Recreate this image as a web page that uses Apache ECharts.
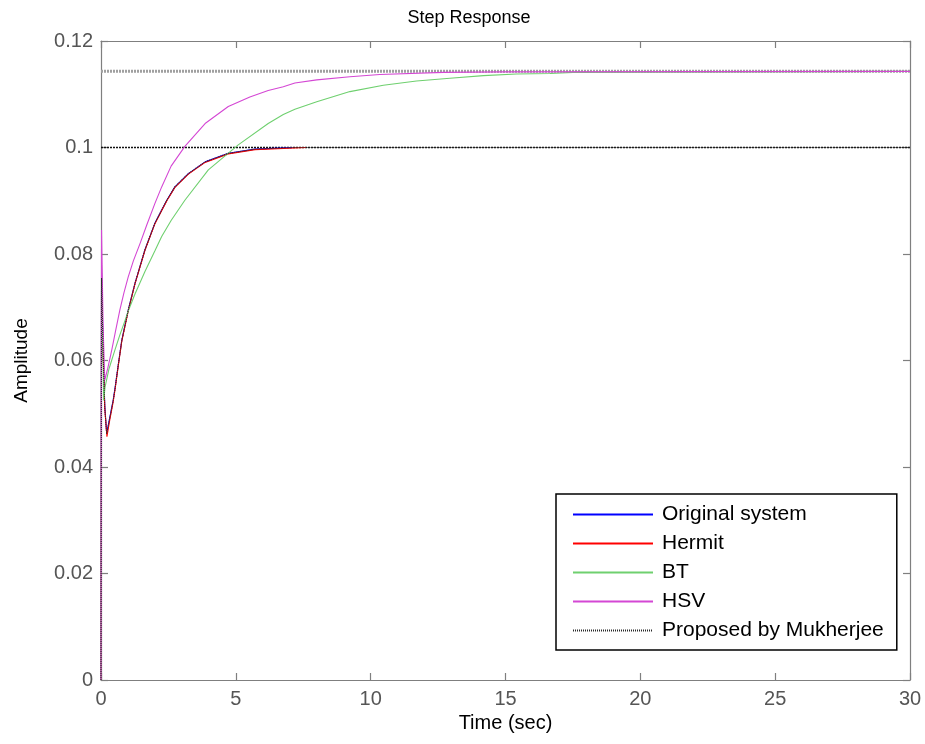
<!DOCTYPE html>
<html>
<head>
<meta charset="utf-8">
<title>Step Response</title>
<script src="https://cdn.jsdelivr.net/npm/echarts@6/dist/echarts.min.js"></script>
<style>
  html, body { margin: 0; padding: 0; background: #fff; }
  #chart { width: 925px; height: 744px; }
</style>
</head>
<body>
<div id="chart"></div>
<script>
// Step responses of the full-order system and its reduced models: [time (s), amplitude]
const originalSystem = [
  [0, 0], [0.02, 0.0765], [0.08, 0.062], [0.14, 0.0515], [0.21, 0.0463], [0.33, 0.0494],
  [0.45, 0.0525], [0.52, 0.0548], [0.64, 0.0592], [0.77, 0.0638], [1.01, 0.0695],
  [1.26, 0.0745], [1.63, 0.0808], [2.0, 0.0858], [2.44, 0.0901], [2.74, 0.0926],
  [3.24, 0.0951], [3.86, 0.0973], [4.72, 0.0989], [5.71, 0.0997], [7.1, 0.1]
];
const hermit = [
  [0, 0], [0.02, 0.075], [0.08, 0.061], [0.14, 0.051], [0.22, 0.0457], [0.33, 0.049],
  [0.45, 0.0522], [0.52, 0.0545], [0.64, 0.059], [0.77, 0.0636], [1.01, 0.0693],
  [1.26, 0.0744], [1.63, 0.0807], [2.0, 0.0857], [2.44, 0.09], [2.74, 0.0925],
  [3.24, 0.095], [3.86, 0.0972], [4.72, 0.0988], [5.71, 0.0996], [7.6, 0.1]
];
const bt = [
  [0, 0], [0.02, 0.078], [0.06, 0.064], [0.1, 0.0525], [0.15, 0.055], [0.3, 0.0585],
  [0.5, 0.0617], [0.7, 0.0648], [0.89, 0.0675], [1.01, 0.0693], [1.26, 0.0725],
  [1.63, 0.0767], [2.0, 0.0806], [2.25, 0.0833], [2.6, 0.0863], [3.11, 0.0901],
  [3.98, 0.0958], [5.09, 0.1005], [6.2, 0.1045], [6.76, 0.1062], [7.19, 0.1072],
  [8.0, 0.1086], [9.23, 0.1105], [10.47, 0.1117], [11.7, 0.1125], [12.94, 0.113],
  [14.18, 0.1135], [15.41, 0.1138], [16.65, 0.1139], [17.5, 0.1141], [23.6, 0.1142], [30, 0.1143]
];
const hsv = [
  [0, 0], [0.02, 0.0845], [0.08, 0.066], [0.14, 0.0563], [0.25, 0.0585], [0.4, 0.062],
  [0.55, 0.0658], [0.7, 0.0695], [0.85, 0.0727], [1.01, 0.0757], [1.2, 0.0787],
  [1.45, 0.082], [1.7, 0.0855], [2.0, 0.0895], [2.25, 0.0926], [2.6, 0.0965],
  [3.11, 0.1002], [3.86, 0.1045], [4.72, 0.1077], [5.52, 0.1095], [6.2, 0.1107],
  [6.76, 0.1114], [7.19, 0.1121], [8.0, 0.1127], [9.23, 0.1133], [10.34, 0.1137],
  [12.7, 0.1141], [15.0, 0.1142], [30, 0.1143]
];
const mukherjee = [
  [0, 0], [0.02, 0.0755], [0.08, 0.061], [0.14, 0.0512], [0.21, 0.0462], [0.33, 0.0493],
  [0.45, 0.0524], [0.52, 0.0547], [0.64, 0.0591], [0.77, 0.0637], [1.01, 0.0694],
  [1.26, 0.0745], [1.63, 0.0808], [2.0, 0.0858], [2.44, 0.0901], [2.74, 0.0926],
  [3.24, 0.0951], [3.86, 0.0973], [4.72, 0.0989], [5.71, 0.0997], [7.1, 0.1], [30, 0.1]
];

// Steady-state levels
const steadyLow = [[0, 0.1], [30, 0.1]];
const steadyHigh = [[0, 0.1143], [30, 0.1143]];

const seriesNames = ['Original system', 'Hermit', 'BT', 'HSV', 'Proposed by Mukherjee'];

// Axis ranges and ticks
const xTicks = [0, 5, 10, 15, 20, 25, 30];
const yTicks = [0, 0.02, 0.04, 0.06, 0.08, 0.1, 0.12];

const FONT = 'Liberation Sans, Arial, Helvetica, sans-serif';
const axisGray = '#7f7f7f';

const chart = echarts.init(document.getElementById('chart'), null, { renderer: 'canvas' });

function line(name, data, color, type, width, z) {
  return {
    name: name,
    type: 'line',
    data: data,
    showSymbol: false,
    symbol: 'none',
    silent: true,
    z: z,
    lineStyle: { color: color, width: width, type: type },
    itemStyle: { color: color }
  };
}

const tickAxisBase = {
  axisLine: { show: true, onZero: false, lineStyle: { color: axisGray, width: 1.2 } },
  axisTick: { show: true, inside: true, length: 7, lineStyle: { color: axisGray, width: 1.2 } },
  splitLine: { show: false }
};

chart.setOption({
  animation: false,
  backgroundColor: '#ffffff',
  title: {
    text: 'Step Response',
    left: 464,
    top: 4,
    textAlign: 'center',
    textStyle: { fontFamily: FONT, fontSize: 18, fontWeight: 'normal', color: '#000' }
  },
  grid: { left: 101, right: 15, top: 41, bottom: 64, containLabel: false },
  legend: {
    data: seriesNames,
    orient: 'vertical',
    left: 556,
    top: 494,
    padding: [10, 13, 9, 16],
    itemWidth: 80,
    itemHeight: 12,
    itemGap: 8,
    backgroundColor: '#ffffff',
    borderColor: '#000000',
    borderWidth: 1.5,
    borderRadius: 0,
    selectedMode: false,
    itemStyle: { opacity: 0, borderWidth: 0 },
    textStyle: { fontFamily: FONT, fontSize: 21, color: '#000', lineHeight: 20, padding: [0, 0, 0, 4] }
  },
  xAxis: [
    Object.assign({}, tickAxisBase, {
      type: 'value',
      min: xTicks[0],
      max: xTicks[xTicks.length - 1],
      interval: xTicks[1] - xTicks[0],
      name: 'Time (sec)',
      nameLocation: 'middle',
      nameGap: 24,
      nameTextStyle: { fontFamily: FONT, fontSize: 20, color: '#000' },
      axisLabel: {
        margin: 9,
        fontFamily: FONT, fontSize: 20, color: '#555',
        formatter: v => String(v)
      }
    }),
    Object.assign({}, tickAxisBase, {
      type: 'value',
      position: 'top',
      min: xTicks[0],
      max: xTicks[xTicks.length - 1],
      interval: xTicks[1] - xTicks[0],
      axisLabel: { show: false }
    })
  ],
  yAxis: [
    Object.assign({}, tickAxisBase, {
      type: 'value',
      min: yTicks[0],
      max: yTicks[yTicks.length - 1],
      interval: 0.02,
      name: 'Amplitude',
      nameLocation: 'middle',
      nameGap: 70,
      nameRotate: 90,
      nameTextStyle: { fontFamily: FONT, fontSize: 19, color: '#000' },
      axisLabel: {
        margin: 8,
        fontFamily: FONT, fontSize: 20, color: '#555',
        formatter: v => String(+v.toFixed(2))
      }
    }),
    Object.assign({}, tickAxisBase, {
      type: 'value',
      position: 'right',
      min: yTicks[0],
      max: yTicks[yTicks.length - 1],
      interval: 0.02,
      axisLabel: { show: false }
    })
  ],
  series: [
    line('', steadyHigh, '#a0a0a0', [2, 1], 3, 1),
    line('', steadyLow, '#111111', [2, 1], 1.3, 1),
    line(seriesNames[0], originalSystem, '#0000ff', 'solid', 1.1, 2),
    line(seriesNames[1], hermit, '#ff0000', 'solid', 1.1, 3),
    line(seriesNames[2], bt, '#6fd06f', 'solid', 1.1, 4),
    line(seriesNames[3], hsv, '#d447d4', 'solid', 1.1, 5),
    line(seriesNames[4], mukherjee, '#2a2a2a', [1, 1], 1.1, 6)
  ]
});
</script>
</body>
</html>
